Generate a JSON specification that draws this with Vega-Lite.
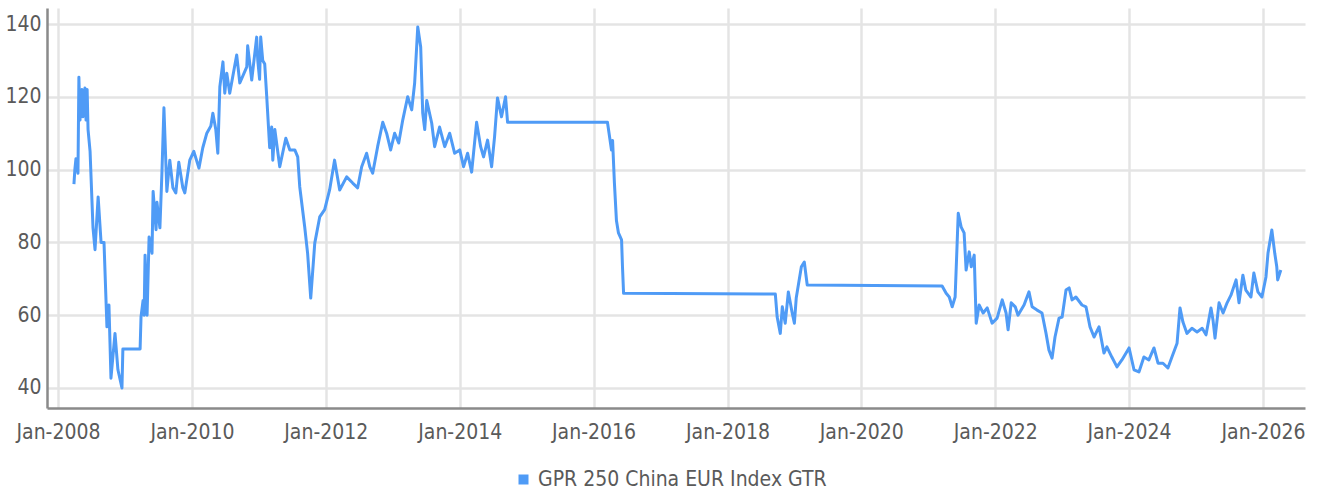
{
  "$schema": "https://vega.github.io/schema/vega-lite/v6.json",
  "width": 1258,
  "height": 400,
  "autosize": {"type": "none"},
  "padding": {"left": 47, "top": 8, "right": 14, "bottom": 85},
  "background": "white",
  "config": {
    "view": {"stroke": null},
    "font": "DejaVu Sans Condensed, Roboto, sans-serif",
    "axis": {
      "labelFont": "DejaVu Sans Condensed, Roboto, sans-serif",
      "labelFontSize": 21,
      "labelColor": "#5a5a5a",
      "gridColor": "#e4e4e4",
      "gridWidth": 2.5,
      "ticks": false,
      "domainColor": "#8a8a8a",
      "domainWidth": 2.5,
      "title": null
    },
    "legend": {
      "labelFont": "DejaVu Sans Condensed, Roboto, sans-serif",
      "labelFontSize": 21,
      "labelColor": "#5a5a5a",
      "labelLimit": 500
    }
  },
  "data": {
    "values": [
      {"d": "2008-03-28", "v": 96},
      {"d": "2008-04-02", "v": 100},
      {"d": "2008-04-08", "v": 103},
      {"d": "2008-04-19", "v": 99},
      {"d": "2008-04-24", "v": 125.4},
      {"d": "2008-04-30", "v": 113.6},
      {"d": "2008-05-11", "v": 122},
      {"d": "2008-05-16", "v": 114.5},
      {"d": "2008-05-27", "v": 122.4},
      {"d": "2008-06-02", "v": 113.6},
      {"d": "2008-06-08", "v": 122},
      {"d": "2008-06-13", "v": 111},
      {"d": "2008-06-24", "v": 105},
      {"d": "2008-07-10", "v": 84},
      {"d": "2008-07-21", "v": 78},
      {"d": "2008-08-07", "v": 92.5},
      {"d": "2008-08-23", "v": 80},
      {"d": "2008-09-08", "v": 80},
      {"d": "2008-09-24", "v": 56.8},
      {"d": "2008-10-05", "v": 62.8},
      {"d": "2008-10-16", "v": 42.7},
      {"d": "2008-11-07", "v": 55},
      {"d": "2008-11-23", "v": 45},
      {"d": "2008-12-15", "v": 40},
      {"d": "2008-12-20", "v": 50.7},
      {"d": "2009-03-24", "v": 50.7},
      {"d": "2009-03-29", "v": 59.5},
      {"d": "2009-04-09", "v": 64},
      {"d": "2009-04-15", "v": 60},
      {"d": "2009-04-20", "v": 76.5},
      {"d": "2009-05-01", "v": 60},
      {"d": "2009-05-12", "v": 81.5},
      {"d": "2009-05-28", "v": 77},
      {"d": "2009-06-03", "v": 94},
      {"d": "2009-06-19", "v": 83.5},
      {"d": "2009-06-24", "v": 91},
      {"d": "2009-07-10", "v": 84},
      {"d": "2009-07-21", "v": 99},
      {"d": "2009-08-01", "v": 117},
      {"d": "2009-08-17", "v": 94},
      {"d": "2009-09-02", "v": 102.6},
      {"d": "2009-09-19", "v": 95},
      {"d": "2009-10-05", "v": 93.6},
      {"d": "2009-10-21", "v": 102},
      {"d": "2009-11-12", "v": 95},
      {"d": "2009-11-23", "v": 93.6},
      {"d": "2009-12-20", "v": 102.6},
      {"d": "2010-01-11", "v": 105},
      {"d": "2010-02-08", "v": 100.4},
      {"d": "2010-03-01", "v": 106},
      {"d": "2010-03-23", "v": 110},
      {"d": "2010-04-14", "v": 112},
      {"d": "2010-04-25", "v": 115.5},
      {"d": "2010-05-11", "v": 111},
      {"d": "2010-05-22", "v": 104.5},
      {"d": "2010-06-02", "v": 122.7},
      {"d": "2010-06-19", "v": 129.6},
      {"d": "2010-06-29", "v": 121},
      {"d": "2010-07-10", "v": 126.5},
      {"d": "2010-07-26", "v": 121},
      {"d": "2010-09-02", "v": 131.5},
      {"d": "2010-09-19", "v": 123.8},
      {"d": "2010-10-27", "v": 128.2},
      {"d": "2010-11-01", "v": 134},
      {"d": "2010-11-23", "v": 124.6},
      {"d": "2010-12-20", "v": 136.4},
      {"d": "2010-12-26", "v": 130},
      {"d": "2011-01-05", "v": 124.8},
      {"d": "2011-01-11", "v": 136.4},
      {"d": "2011-01-22", "v": 130},
      {"d": "2011-02-02", "v": 129},
      {"d": "2011-02-13", "v": 120},
      {"d": "2011-03-01", "v": 106},
      {"d": "2011-03-12", "v": 111.7},
      {"d": "2011-03-18", "v": 102.6},
      {"d": "2011-03-29", "v": 111},
      {"d": "2011-04-25", "v": 100.8},
      {"d": "2011-05-28", "v": 108.6},
      {"d": "2011-06-19", "v": 105.4},
      {"d": "2011-07-16", "v": 105.4},
      {"d": "2011-08-01", "v": 103.5},
      {"d": "2011-08-12", "v": 95.3},
      {"d": "2011-09-08", "v": 84.3},
      {"d": "2011-09-24", "v": 77},
      {"d": "2011-10-11", "v": 64.7},
      {"d": "2011-11-02", "v": 79.8},
      {"d": "2011-11-29", "v": 87},
      {"d": "2011-12-26", "v": 89},
      {"d": "2012-01-22", "v": 94.4},
      {"d": "2012-02-18", "v": 102.6},
      {"d": "2012-03-17", "v": 94.4},
      {"d": "2012-04-24", "v": 98},
      {"d": "2012-05-27", "v": 96.3},
      {"d": "2012-06-23", "v": 95},
      {"d": "2012-07-15", "v": 100.8},
      {"d": "2012-08-11", "v": 104.5},
      {"d": "2012-08-28", "v": 100.8},
      {"d": "2012-09-13", "v": 99},
      {"d": "2012-10-10", "v": 106.3},
      {"d": "2012-11-07", "v": 113},
      {"d": "2012-11-28", "v": 110},
      {"d": "2012-12-20", "v": 105.4},
      {"d": "2013-01-11", "v": 110},
      {"d": "2013-02-02", "v": 107.3},
      {"d": "2013-02-24", "v": 113.6},
      {"d": "2013-03-23", "v": 120},
      {"d": "2013-04-14", "v": 116.4},
      {"d": "2013-04-30", "v": 123.8},
      {"d": "2013-05-17", "v": 139.2},
      {"d": "2013-06-02", "v": 133.7},
      {"d": "2013-06-13", "v": 115.5},
      {"d": "2013-06-24", "v": 111},
      {"d": "2013-07-05", "v": 119},
      {"d": "2013-08-01", "v": 112.8},
      {"d": "2013-08-17", "v": 106.3},
      {"d": "2013-09-13", "v": 111.7},
      {"d": "2013-10-11", "v": 106.3},
      {"d": "2013-11-07", "v": 110},
      {"d": "2013-12-04", "v": 104.5},
      {"d": "2014-01-01", "v": 105.4},
      {"d": "2014-01-22", "v": 100.8},
      {"d": "2014-02-13", "v": 104.5},
      {"d": "2014-03-07", "v": 99.3},
      {"d": "2014-04-03", "v": 113},
      {"d": "2014-04-25", "v": 106.3},
      {"d": "2014-05-11", "v": 103.5},
      {"d": "2014-06-02", "v": 108.1},
      {"d": "2014-06-24", "v": 100.8},
      {"d": "2014-07-10", "v": 109},
      {"d": "2014-07-26", "v": 119.7},
      {"d": "2014-08-17", "v": 114.5},
      {"d": "2014-09-08", "v": 120},
      {"d": "2014-09-19", "v": 113},
      {"d": "2016-03-17", "v": 113},
      {"d": "2016-04-08", "v": 105.4},
      {"d": "2016-04-14", "v": 108},
      {"d": "2016-04-24", "v": 96.3},
      {"d": "2016-05-05", "v": 86},
      {"d": "2016-05-16", "v": 82.6},
      {"d": "2016-06-02", "v": 80.7},
      {"d": "2016-06-07", "v": 73.3},
      {"d": "2016-06-13", "v": 66},
      {"d": "2018-09-19", "v": 65.8},
      {"d": "2018-09-29", "v": 59.5},
      {"d": "2018-10-16", "v": 55},
      {"d": "2018-10-27", "v": 62.3},
      {"d": "2018-11-12", "v": 57.8},
      {"d": "2018-11-29", "v": 66.4},
      {"d": "2018-12-20", "v": 60.6},
      {"d": "2019-01-01", "v": 57.8},
      {"d": "2019-01-11", "v": 64.7},
      {"d": "2019-02-08", "v": 73.3},
      {"d": "2019-02-24", "v": 74.6},
      {"d": "2019-03-12", "v": 68.3},
      {"d": "2021-03-17", "v": 68},
      {"d": "2021-04-08", "v": 66},
      {"d": "2021-04-25", "v": 65},
      {"d": "2021-05-11", "v": 62.3},
      {"d": "2021-05-27", "v": 65},
      {"d": "2021-06-07", "v": 79.8},
      {"d": "2021-06-13", "v": 88},
      {"d": "2021-06-29", "v": 84.2},
      {"d": "2021-07-15", "v": 82.6},
      {"d": "2021-07-26", "v": 72.4},
      {"d": "2021-08-12", "v": 77.4},
      {"d": "2021-08-23", "v": 73.3},
      {"d": "2021-09-08", "v": 76.5},
      {"d": "2021-09-19", "v": 57.8},
      {"d": "2021-10-05", "v": 62.8},
      {"d": "2021-10-27", "v": 60.6},
      {"d": "2021-11-18", "v": 62},
      {"d": "2021-12-15", "v": 57.8},
      {"d": "2022-01-11", "v": 59.2},
      {"d": "2022-02-08", "v": 64.2},
      {"d": "2022-03-01", "v": 60.6},
      {"d": "2022-03-12", "v": 56},
      {"d": "2022-03-29", "v": 63.4},
      {"d": "2022-04-20", "v": 62.3},
      {"d": "2022-05-05", "v": 60},
      {"d": "2022-06-07", "v": 62.8},
      {"d": "2022-07-04", "v": 66.4},
      {"d": "2022-07-21", "v": 62.3},
      {"d": "2022-08-17", "v": 61.4},
      {"d": "2022-09-13", "v": 60.6},
      {"d": "2022-10-05", "v": 55},
      {"d": "2022-10-21", "v": 50.4},
      {"d": "2022-11-07", "v": 48.2},
      {"d": "2022-11-23", "v": 54},
      {"d": "2022-12-15", "v": 59.2},
      {"d": "2023-01-01", "v": 59.5},
      {"d": "2023-01-22", "v": 66.9},
      {"d": "2023-02-08", "v": 67.5},
      {"d": "2023-02-24", "v": 64.2},
      {"d": "2023-03-17", "v": 65},
      {"d": "2023-04-19", "v": 62.8},
      {"d": "2023-05-11", "v": 62.3},
      {"d": "2023-06-02", "v": 56.8},
      {"d": "2023-06-24", "v": 54},
      {"d": "2023-07-21", "v": 56.8},
      {"d": "2023-08-17", "v": 49.6},
      {"d": "2023-09-02", "v": 51.3},
      {"d": "2023-09-29", "v": 48.5},
      {"d": "2023-10-27", "v": 45.8},
      {"d": "2023-11-23", "v": 47.7},
      {"d": "2024-01-01", "v": 51},
      {"d": "2024-01-28", "v": 45},
      {"d": "2024-02-24", "v": 44.4},
      {"d": "2024-03-22", "v": 48.5},
      {"d": "2024-04-18", "v": 47.7},
      {"d": "2024-05-16", "v": 51},
      {"d": "2024-06-07", "v": 46.8},
      {"d": "2024-07-04", "v": 46.8},
      {"d": "2024-07-31", "v": 45.5},
      {"d": "2024-08-22", "v": 48.5},
      {"d": "2024-09-19", "v": 52.3},
      {"d": "2024-10-05", "v": 62},
      {"d": "2024-10-21", "v": 58.1},
      {"d": "2024-11-12", "v": 55},
      {"d": "2024-12-09", "v": 56.4},
      {"d": "2025-01-06", "v": 55.4},
      {"d": "2025-02-03", "v": 56.4},
      {"d": "2025-02-24", "v": 54.6},
      {"d": "2025-03-23", "v": 62},
      {"d": "2025-04-03", "v": 58.7},
      {"d": "2025-04-14", "v": 53.7},
      {"d": "2025-05-06", "v": 63.4},
      {"d": "2025-05-28", "v": 60.6},
      {"d": "2025-06-19", "v": 63.4},
      {"d": "2025-07-10", "v": 65.5},
      {"d": "2025-08-07", "v": 69.7},
      {"d": "2025-08-23", "v": 63.4},
      {"d": "2025-09-13", "v": 71},
      {"d": "2025-09-29", "v": 66.9},
      {"d": "2025-10-27", "v": 65},
      {"d": "2025-11-12", "v": 71.6},
      {"d": "2025-12-04", "v": 66.4},
      {"d": "2025-12-26", "v": 65},
      {"d": "2026-01-17", "v": 70.5},
      {"d": "2026-01-28", "v": 77},
      {"d": "2026-02-18", "v": 83.4},
      {"d": "2026-03-06", "v": 77},
      {"d": "2026-03-17", "v": 73.3},
      {"d": "2026-03-22", "v": 69.7},
      {"d": "2026-04-08", "v": 72.4}
    ]
  },
  "mark": {"type": "line", "strokeWidth": 3, "strokeJoin": "round", "interpolate": "linear"},
  "encoding": {
    "x": {
      "field": "d",
      "type": "temporal",
      "scale": {
        "type": "utc",
        "domain": [
          {"year": 2007, "month": 11, "date": 2, "utc": true},
          {"year": 2026, "month": 8, "date": 18, "utc": true}
        ]
      },
      "axis": {
        "format": "%b-%Y",
        "tickCount": {"interval": "year", "step": 2},
        "labelPadding": 13,
        "labelFlush": false,
        "labelOverlap": false
      }
    },
    "y": {
      "field": "v",
      "type": "quantitative",
      "scale": {"domain": [34.5, 144.4], "nice": false, "zero": false},
      "axis": {"values": [40, 60, 80, 100, 120, 140], "labelPadding": 6}
    },
    "color": {
      "datum": "GPR 250 China EUR Index GTR",
      "type": "nominal",
      "scale": {"range": ["#4f9bf6"]},
      "legend": {
        "title": null,
        "orient": "none",
        "legendX": 466,
        "legendY": 461,
        "symbolType": "square",
        "symbolSize": 100,
        "labelOffset": 4,
        "symbolStrokeWidth": 0,
        "labelLimit": 500,
        "encode": {
          "symbols": {"update": {"fill": {"value": "#4f9bf6"}, "stroke": {"value": "#4f9bf6"}, "strokeWidth": {"value": 0}}}
        }
      }
    }
  }
}
